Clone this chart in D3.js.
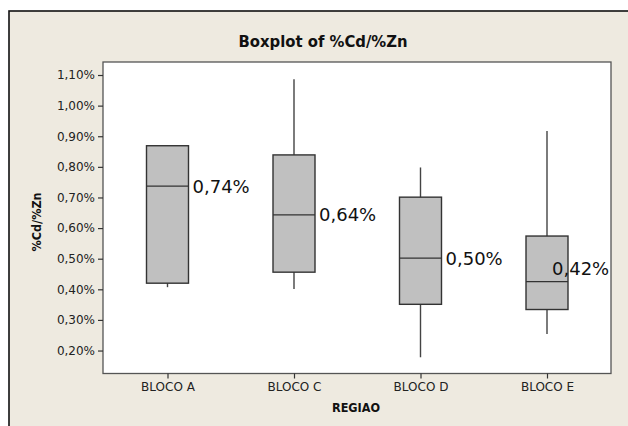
<!DOCTYPE html>
<html>
<head>
<meta charset="utf-8">
<script src="https://cdn.jsdelivr.net/npm/d3@7"></script>
<style>
  body { margin: 0; background: #fff; }
  svg { display: block; }
</style>
</head>
<body>
<div id="chart"></div>
<script>
// Boxplot values (in %)
const categories = ['BLOCO A', 'BLOCO C', 'BLOCO D', 'BLOCO E'];
const whiskerLow = [0.407, 0.401, 0.178, 0.254];
const q1 = [0.420, 0.456, 0.351, 0.334];
const median = [0.737, 0.643, 0.502, 0.425];
const q3 = [0.869, 0.839, 0.701, 0.574];
const whiskerHigh = [0.869, 1.086, 0.798, 0.917];
const medianLabels = ['0,74%', '0,64%', '0,50%', '0,42%'];
const yTicks = [0.2, 0.3, 0.4, 0.5, 0.6, 0.7, 0.8, 0.9, 1.0, 1.1];

const W = 628, H = 426;
const plot = { left: 103, top: 62, right: 611, bottom: 373.5 };

const svg = d3.select('#chart')
  .append('svg')
  .attr('width', W)
  .attr('height', H);

// outer frame (clipped by the window on right and bottom)
svg.append('rect')
  .attr('x', 9).attr('y', 11)
  .attr('width', W).attr('height', H)
  .attr('fill', '#eeeae0')
  .attr('stroke', '#111')
  .attr('stroke-width', 1.6);

// Scales
const x = d3.scalePoint()
  .domain(categories)
  .range([167.5, 547]);

const y = d3.scaleLinear()
  .domain([0.125, 1.1425])
  .range([plot.bottom, plot.top]);

// plot area
svg.append('rect')
  .attr('x', plot.left).attr('y', plot.top)
  .attr('width', plot.right - plot.left)
  .attr('height', plot.bottom - plot.top)
  .attr('fill', '#fff')
  .attr('stroke', '#555')
  .attr('stroke-width', 1.3);

// Axes
const fmt = d => d.toFixed(2).replace('.', ',') + '%';

const yAxis = svg.append('g')
  .attr('transform', `translate(${plot.left},0)`)
  .call(d3.axisLeft(y).tickValues(yTicks).tickFormat(fmt).tickSize(5).tickPadding(3));

const xAxis = svg.append('g')
  .attr('transform', `translate(0,${plot.bottom})`)
  .call(d3.axisBottom(x).tickSize(5).tickPadding(4));

[yAxis, xAxis].forEach(g => {
  g.select('.domain').remove();
  g.selectAll('line').attr('stroke', '#333').attr('stroke-width', 1.2);
  g.selectAll('text')
    .attr('fill', '#222')
    .style('font-family', 'DejaVu Sans, Verdana, sans-serif')
    .style('font-size', '12px');
});

// Boxes
const data = categories.map((c, i) => ({
  cat: c,
  lo: whiskerLow[i], q1: q1[i], med: median[i], q3: q3[i], hi: whiskerHigh[i],
  label: medianLabels[i]
}));

const boxW = 42;
const boxes = svg.append('g').selectAll('g')
  .data(data)
  .join('g');

// whiskers
boxes.append('line')
  .attr('x1', d => x(d.cat)).attr('x2', d => x(d.cat))
  .attr('y1', d => y(d.lo)).attr('y2', d => y(d.hi))
  .attr('stroke', '#444')
  .attr('stroke-width', 1.4);

boxes.append('rect')
  .attr('x', d => x(d.cat) - boxW / 2)
  .attr('y', d => y(d.q3))
  .attr('width', boxW)
  .attr('height', d => y(d.q1) - y(d.q3))
  .attr('fill', '#c0c0c0')
  .attr('stroke', '#333')
  .attr('stroke-width', 1.4);

boxes.append('line')
  .attr('x1', d => x(d.cat) - boxW / 2).attr('x2', d => x(d.cat) + boxW / 2)
  .attr('y1', d => y(d.med)).attr('y2', d => y(d.med))
  .attr('stroke', '#333')
  .attr('stroke-width', 1.4);

// median labels; the last one was nudged onto the box in the original
boxes.append('text')
  .attr('x', (d, i) => x(d.cat) + boxW / 2 + (i === 3 ? -16 : 4))
  .attr('y', (d, i) => y(d.med) + (i === 3 ? -6.5 : 6.5))
  .text(d => d.label)
  .attr('fill', '#111')
  .style('font-family', 'DejaVu Sans, Verdana, sans-serif')
  .style('font-size', '18px');

// Titles
svg.append('text')
  .attr('x', 323).attr('y', 47)
  .attr('text-anchor', 'middle')
  .text('Boxplot of %Cd/%Zn')
  .attr('fill', '#111')
  .style('font-family', 'DejaVu Sans Condensed, DejaVu Sans, sans-serif')
  .style('font-weight', 'bold')
  .style('font-size', '16.5px');

svg.append('text')
  .attr('x', 356).attr('y', 411.5)
  .attr('text-anchor', 'middle')
  .text('REGIAO')
  .attr('fill', '#111')
  .style('font-family', 'DejaVu Sans Condensed, DejaVu Sans, sans-serif')
  .style('font-weight', 'bold')
  .style('font-size', '12.5px');

svg.append('text')
  .attr('transform', 'translate(41,222) rotate(-90)')
  .attr('text-anchor', 'middle')
  .text('%Cd/%Zn')
  .attr('fill', '#111')
  .style('font-family', 'DejaVu Sans Condensed, DejaVu Sans, sans-serif')
  .style('font-weight', 'bold')
  .style('font-size', '12.5px');
</script>
</body>
</html>
